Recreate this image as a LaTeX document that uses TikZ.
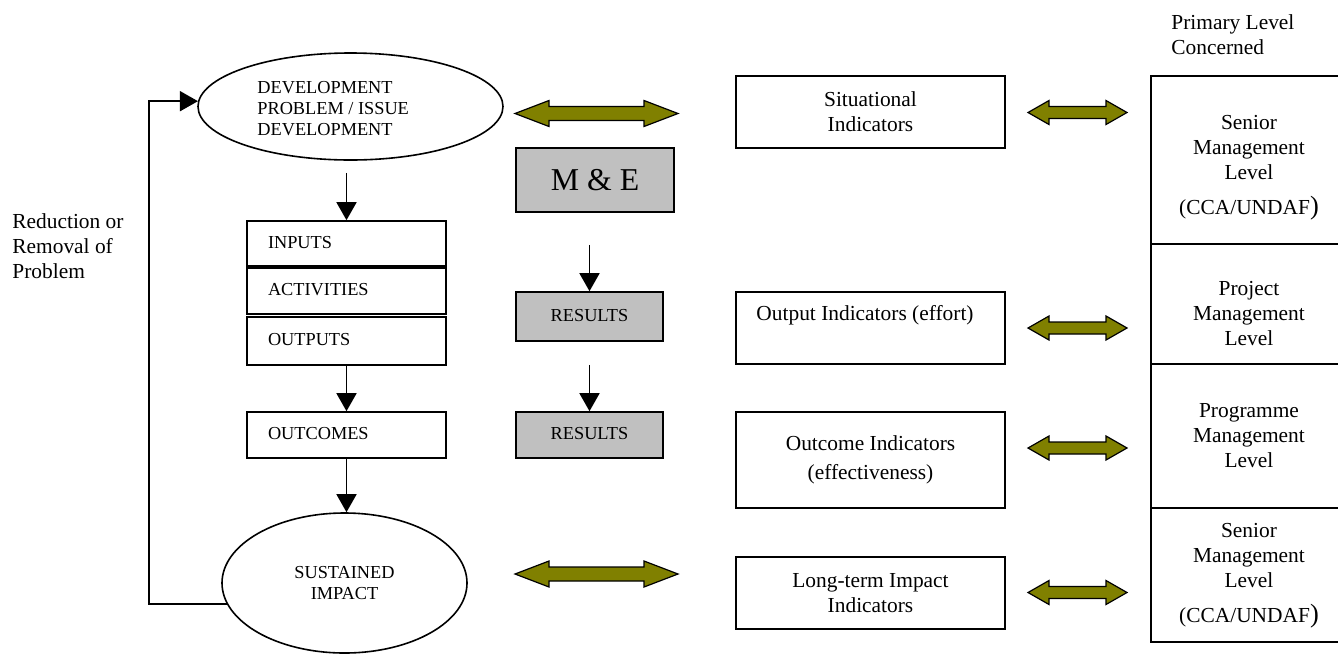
\documentclass[tikz,border=0pt]{standalone}
\usepackage{fontspec}
\setmainfont{Liberation Serif}
\usetikzlibrary{arrows.meta,shapes.geometric}
\definecolor{olv}{RGB}{128,128,0}
\definecolor{gry}{RGB}{192,192,192}
% double-headed olive block arrow: x1, x2, y, shaft half, head half, head length
\newcommand\oliveDA[6]{%
  \draw[dbl] (#1,#3) -- (#1+#6,#3-#5) -- (#1+#6,#3-#4) -- (#2-#6,#3-#4)
    -- (#2-#6,#3-#5) -- (#2,#3) -- (#2-#6,#3+#5) -- (#2-#6,#3+#4)
    -- (#1+#6,#3+#4) -- (#1+#6,#3+#5) -- cycle;}
\begin{document}
\begin{tikzpicture}[x=0.5pt,y=-0.5pt,
  box/.style={draw, line width=0.8pt, inner sep=0pt},
  txt/.style={font=\fontsize{10.7}{12.5}\selectfont, align=center, inner sep=0pt},
  capstext/.style={font=\fontsize{9.15}{10.5}\selectfont, inner sep=0pt},
  lbox/.style={box, capstext, text width=78.5pt, inner xsep=10.5pt, align=left,
    text height=0.7em, text depth=0.25em},
  gbox/.style={box, fill=gry, capstext, minimum width=73.5pt,
    text height=0.7em, text depth=0.25em},
  ibox/.style={box, txt, minimum width=134.5pt},
  lvbox/.style={box, minimum width=98pt},
  arr/.style={-{Triangle[length=9pt,width=10pt]}, line width=0.8pt},
  dbl/.style={draw=black, fill=olv, line width=0.6pt, line join=miter}]
\useasboundingbox (0,0) rectangle (1338,654);
\clip (0,0) rectangle (1338,654);

% left column
\node[box, ellipse, minimum width=152.5pt, minimum height=53.5pt] (dev) at (350.5,106.5) {};
\node[capstext, align=left, anchor=west] (devt) at (257,109) {DEVELOPMENT\\PROBLEM / ISSUE\\DEVELOPMENT};
\node[lbox, minimum height=22.5pt] (inputs) at (346.5,243.5) {INPUTS};
\node[lbox, minimum height=23pt] (acts) at (346.5,291) {ACTIVITIES};
\node[lbox, minimum height=24pt] (outputs) at (346.5,341) {OUTPUTS};
\node[lbox, minimum height=23pt] (outcomes) at (346.5,435) {OUTCOMES};
\node[box, ellipse, minimum width=122.5pt, minimum height=70pt, capstext, align=center] (sust) at (344.5,583) {SUSTAINED\\IMPACT};

\node[txt, align=left, anchor=west] (red) at (12,245.7) {Reduction or\\Removal of\\Problem};
\node[txt, align=left, anchor=west] (prim) at (1171,34.2) {Primary Level\\Concerned};

% middle column
\node[box, fill=gry, minimum width=79pt, minimum height=32pt, font=\fontsize{15.9}{18}\selectfont] (me) at (595,180) {M \& E};
\node[gbox, minimum height=24.5pt] (res1) at (589.5,316.5) {RESULTS};
\node[gbox, minimum height=23pt] (res2) at (589.5,435) {RESULTS};

% indicators
\node[ibox, minimum height=36pt] (sit) at (870.5,112) {Situational\\Indicators};
\node[ibox, minimum height=36pt] (outind) at (870.5,328) {};
\node[txt] (outindt) at (865,315) {Output Indicators (effort)};
\node[ibox, minimum height=48pt] (outcind) at (870.5,460) {Outcome Indicators\\[2pt](effectiveness)};
\node[ibox, minimum height=36pt] (ltind) at (870.5,593) {Long-term Impact\\Indicators};

% right column
\node[lvbox, minimum height=84pt] (lv1) at (1249,160) {};
\node[lvbox, minimum height=60pt] (lv2) at (1249,304) {};
\node[lvbox, minimum height=72pt] (lv3) at (1249,436) {};
\node[lvbox, minimum height=67pt] (lv4) at (1249,575) {};
\node[txt] (lv1t) at (1249,167.9) {Senior\\Management\\Level\\[5pt](CCA/UNDAF{\fontsize{13.2}{12.5}\selectfont)}};
\node[txt] (lv2t) at (1249,314) {Project\\Management\\Level};
\node[txt] (lv3t) at (1249,435.5) {Programme\\Management\\Level};
\node[txt] (lv4t) at (1249,575.4) {Senior\\Management\\Level\\[5pt](CCA/UNDAF{\fontsize{13.2}{12.5}\selectfont)}};

% black arrows
\draw[arr, shorten <=6pt] (inputs.north |- dev.south) -- (inputs.north);
\draw[arr] (outputs.south) -- (outcomes.north);
\draw[arr] (outcomes.south) -- (outcomes.south |- sust.north);
\draw[arr, shorten <=16pt] (res1.north |- me.south) -- (res1.north);
\draw[arr, shorten <=11.5pt] (res1.south) -- (res2.north);
\coordinate (fb) at (149,0);
\draw[arr, line join=miter] (sust.190) -| (fb |- dev.178) -- (dev.178);

% olive double arrows
\oliveDA{515}{678}{113.5}{7}{13}{34}
\oliveDA{515}{678}{574}{7}{13}{34}
\oliveDA{1028}{1127}{112.5}{6}{12}{21}
\oliveDA{1028}{1127}{328}{6}{12}{21}
\oliveDA{1028}{1127}{448}{6}{12}{21}
\oliveDA{1028}{1127}{592.5}{6}{12}{21}
\end{tikzpicture}
\end{document}
